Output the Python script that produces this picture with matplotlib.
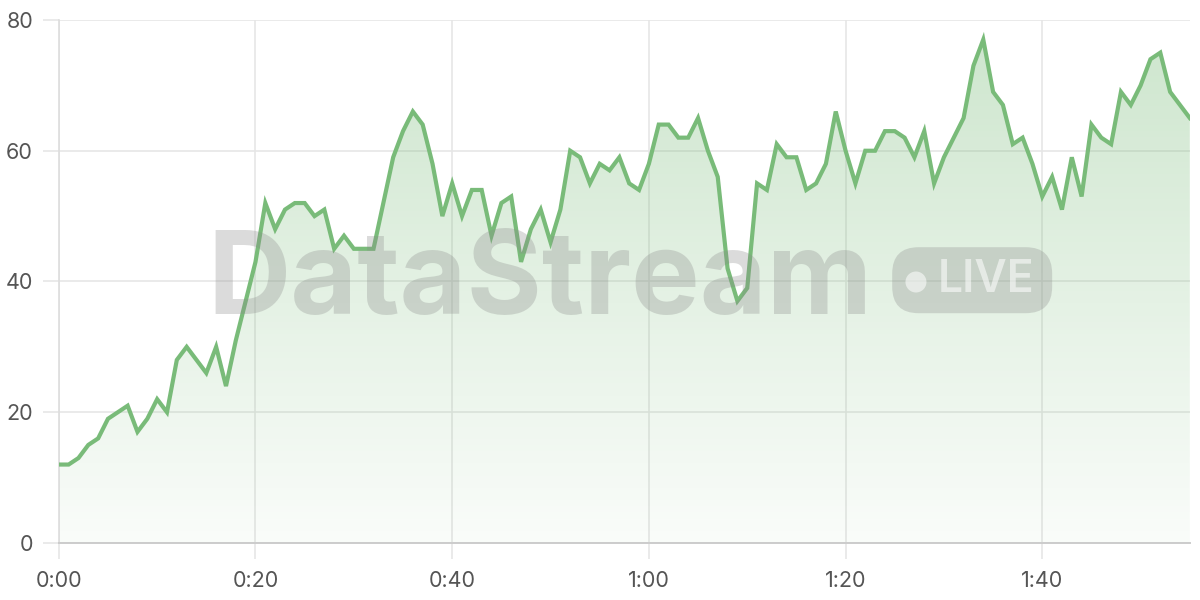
import matplotlib
matplotlib.use('Agg')
import matplotlib.pyplot as plt
import numpy as np
from matplotlib.patches import FancyBboxPatch, Ellipse

seconds = list(range(116))
values = [12, 12, 13, 15, 16, 19, 20, 21, 17, 19,
          22, 20, 28, 30, 28, 26, 30, 24, 31, 37,
          43, 52, 48, 51, 52, 52, 50, 51, 45, 47,
          45, 45, 45, 52, 59, 63, 66, 64, 58, 50,
          55, 50, 54, 54, 47, 52, 53, 43, 48, 51,
          46, 51, 60, 59, 55, 58, 57, 59, 55, 54,
          58, 64, 64, 62, 62, 65, 60, 56, 42, 37,
          39, 55, 54, 61, 59, 59, 54, 55, 58, 66,
          60, 55, 60, 60, 63, 63, 62, 59, 63, 55,
          59, 62, 65, 73, 77, 69, 67, 61, 62, 58,
          53, 56, 51, 59, 53, 64, 62, 61, 69, 67,
          70, 74, 75, 69, 67, 65]

x_ticks = [0, 20, 40, 60, 80, 100]
x_labels = ['0:00', '0:20', '0:40', '1:00', '1:20', '1:40']
y_ticks = [0, 20, 40, 60, 80]

line_color = '#79bb79'
grid_color = '#e6e6e6'
text_color = '#555555'

plt.rcParams['font.family'] = ['Inter', 'DejaVu Sans']

fig = plt.figure(figsize=(12, 6), dpi=100)
ax = fig.add_axes([0.049, 0.095, 0.9425, 0.8717])

ax.set_xlim(0, 115)
ax.set_ylim(0, 80)

# gradient fill under the line
fill = ax.fill_between(seconds, values, 0, color='none', lw=0)
grad = np.linspace(0.04, 0.36, 256).reshape(-1, 1)
rgba = np.zeros((256, 1, 4))
rgba[:, :, 0] = 0.47
rgba[:, :, 1] = 0.73
rgba[:, :, 2] = 0.47
rgba[:, :, 3] = grad
img = ax.imshow(rgba, extent=[0, 115, 0, max(values)], origin='lower',
                aspect='auto', zorder=1)
img.set_clip_path(fill.get_paths()[0], transform=ax.transData)

ax.plot(seconds, values, color=line_color, lw=3, zorder=4,
        solid_joinstyle='miter')

# watermark
fig.text(0.45, 0.527, 'DataStream', fontsize=83, fontweight='bold',
         color='#8a8a8a', alpha=0.3, ha='center', va='center', zorder=3)
badge = FancyBboxPatch((0.7435, 0.478), 0.1333, 0.11,
                       boxstyle='round,pad=0,rounding_size=0.022',
                       transform=fig.transFigure, facecolor='#8a8a8a',
                       edgecolor='none', alpha=0.3, zorder=3,
                       mutation_aspect=2)
fig.patches.append(badge)
dot = Ellipse((0.7633, 0.530), 0.0175, 0.035, transform=fig.transFigure,
              facecolor='white', edgecolor='none', alpha=0.55, zorder=3)
fig.patches.append(dot)
fig.text(0.8215, 0.533, 'LIVE', fontsize=32, fontweight='semibold',
         color='white', alpha=0.55, ha='center', va='center', zorder=3)

ax.set_xticks(x_ticks)
ax.set_xticklabels(x_labels)
ax.set_yticks(y_ticks)
ax.grid(True, color=grid_color, lw=1.2)
ax.set_axisbelow(True)

for side in ['top', 'right']:
    ax.spines[side].set_visible(False)
ax.spines['left'].set_color('#dddddd')
ax.spines['left'].set_linewidth(1.2)
ax.spines['bottom'].set_color('#cccccc')
ax.spines['bottom'].set_linewidth(1.4)

ax.tick_params(axis='both', colors=grid_color, width=1.2, length=11.5,
               labelcolor=text_color, labelsize=15.5)
ax.tick_params(axis='y', pad=7)
ax.tick_params(axis='x', pad=9)

plt.savefig('out.png', dpi=100)
plt.close()
